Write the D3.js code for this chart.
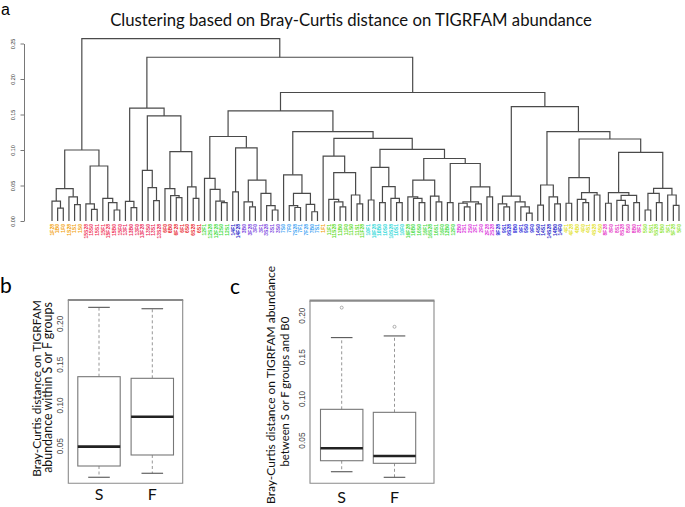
<!DOCTYPE html>
<html><head><meta charset="utf-8">
<script src="https://cdn.jsdelivr.net/npm/d3@7/dist/d3.min.js"></script>
<style>body{margin:0;background:#fff}svg{display:block}</style>
</head><body>
<svg id="chart" width="685" height="507"></svg>
<script>
// ---------- DATA ----------
const leafLabels = ["1F28","1B0","1F0","1S28","1S1","1S0",
"15S28","15S0","15S1","15F1","15F28","15B0","15F0",
"13F1","13B0","13F0","13F28","13S0","13S1","13S28",
"6F0","6B0","6F28","6F1","6S0","6S28","6S1",
"12F1","12S28","12F28","12S0","12S1",
"14F1","14F28",
"3B0","3F28","3F0","3F1","3S28","3S1","3S0",
"7S0","7F0","7S28","7F1","7F28","7B0","7S1",
"1F1",
"11F1","11S28","11B0","11F0","11S0","11S1","11F28",
"10F1","10F28","10B0","10S0","10S28","10S1","10F0",
"16F28","16B0","16S0","16F1","16S28","16S1","16F0",
"12B0","12F0",
"2B0","2S1","2S0","2F1","2F0","2F28","2S28",
"9F28","9S1","9S28","9B0","9F1","9S0","9F0",
"14S0","14S1","14S28","14B0","14F0",
"4F1","4F28","4B0","4F0","4S1","4S28","4S0",
"8F28","8F0","8S1","8S28","8S0","8B0","8F1",
"5S0","5S1","5S28","5B0","5F1","5F28","5F0"];

const groupIds    = ["1","15","13","6","12","14","3","7","11","10","16","2","9","4","8","5"];
const groupColors = ["#f2a20c","#f0355a","#ea2a58","#e8262e","#3fdc3f","#2424c8","#7a46e0","#3aa2f2",
                     "#5ddc28","#2ad8d8","#46dc46","#dc38dc","#2828d8","#e2e226","#e63cc8","#92e63a"];

// merge trees: [height, left, right]; numbers are leaf indices
const clusterA  = [0.100,
  [0.0455, [0.028, 0, [0.018, 1, 2]], [0.034, 3, [0.023, 4, 5]]],
  [0.0775, [0.024, 6, [0.0165, 7, 8]], [0.032, 9, [0.026, 10, [0.0155, 11, 12]]]]];
const clusterB1 = [0.159,
  [0.0277, 13, [0.0187, 14, 15]],
  [0.148,
    [0.0714, 16, [0.047, 17, [0.0286, 18, 19]]],
    [0.0976, [0.0455, 20, [0.0357, 21, [0.033, 22, 23]]], [0.048, 24, [0.032, 25, 26]]]]];
const clusterC  = [0.119,
  [0.060, 27, [0.0446, 28, [0.028, 29, [0.0258, 30, 31]]]],
  [0.103, [0.041, 32, 33],
    [0.0577, [0.027, 34, [0.020, 35, 36]], [0.039, 37, [0.0216, 38, [0.0155, 39, 40]]]]]];
const clusterDL = [0.065, 41, [0.039, [0.0216, 42, [0.019, 43, 44]], [0.0235, 45, [0.013, 46, 47]]]];
const clusterE  = [0.0915, 48, [0.068, [0.0305, 49, [0.027, 50, [0.020, 51, 52]]], [0.0366, 53, [0.024, 54, 55]]]];
const clusterF  = [0.101,
  [0.0756, [0.0296, 56, 57], [0.0483, [0.026, 58, 59], [0.032, 60, [0.026, 61, 62]]]],
  [0.088,
    [0.0577, [0.034, 63, [0.032, 64, [0.026, 65, 66]]], [0.035, 67, [0.027, 68, 69]]],
    [0.081, [0.026, 70, 71], [0.048, [0.027, [0.025, 72, [0.020, 73, 74]], [0.024, 75, 76]], [0.034, 77, 78]]]]];
const clusterGL = [0.035, [0.024, 79, [0.020, 80, 81]], [0.027, 82, [0.020, 83, [0.011, 84, 85]]]];
const clusterGRL= [0.0507, [0.0225, 86, 87], [0.034, 88, [0.024, 89, 90]]];
const clusterH  = [0.061, [0.025, 91, 92], [0.040, [0.0305, 93, [0.026, 94, 95]], [0.0366, 96, 97]]];
const clusterI  = [0.0967,
  [0.040, [0.025, 98, 99], [0.036, [0.029, 100, [0.022, 101, 102]], [0.026, 103, 104]]],
  [0.046, [0.039, [0.0155, 105, 106], [0.026, 107, 108]], [0.0366, 109, [0.022, 110, 111]]]];
const clusterD  = [0.126, clusterDL, [0.1165, clusterE, clusterF]];
const clusterG  = [0.161, clusterGL, [0.126, clusterGRL, [0.1155, clusterH, clusterI]]];
const mergeTree = [0.257, clusterA, [0.2306, clusterB1, [0.181, [0.155, clusterC, clusterD], clusterG]]];

const dendTicks = [0, 0.05, 0.10, 0.15, 0.20, 0.25];

const boxCategories = ["S", "F"];
// panel b
const bLow    = [0.0113, 0.0162];
const bQ1     = [0.0251, 0.0386];
const bMedian = [0.0488, 0.0855];
const bQ3     = [0.1346, 0.1326];
const bHigh   = [0.2196, 0.2179];
const bOut    = [[], []];
// panel c
const cLow    = [0.0120, 0.0053];
const cQ1     = [0.0252, 0.0221];
const cMedian = [0.0401, 0.0309];
const cQ3     = [0.0869, 0.0833];
const cHigh   = [0.1730, 0.1750];
const cOut    = [[0.209], [0.186]];
const boxTicks = [0.05, 0.10, 0.15, 0.20];

// ---------- DRAW ----------
const svg = d3.select("#chart");
const SANS = "Lato, 'Open Sans', sans-serif";
const RFONT = "'Liberation Sans', Arial, sans-serif";
function fit(sel, w) {
  const L = sel.node().getComputedTextLength();
  sel.attr("font-size", parseFloat(sel.attr("font-size")) * w / L);
}

// panel letters
svg.append("text").attr("x", 1).attr("y", 15).attr("font-family", RFONT).attr("font-size", 16).text("a");
svg.append("text").attr("x", 0).attr("y", 293).attr("font-family", SANS).attr("font-size", 21).text("b");
svg.append("text").attr("x", 230).attr("y", 294).attr("font-family", SANS).attr("font-size", 21).text("c");

// title
const title = svg.append("text").attr("x", 351).attr("y", 26).attr("text-anchor", "middle")
  .attr("font-family", SANS).attr("font-size", 16).attr("fill", "#111")
  .text("Clustering based on Bray-Curtis distance on TIGRFAM abundance");
fit(title, 482);

// dendrogram
const xLeaf = d3.scalePoint().domain(leafLabels).range([52, 679]);
const yDend = d3.scaleLinear().domain([0, 0.25]).range([221, 43.5]);
const colorOf = d3.scaleOrdinal().domain(groupIds).range(groupColors);

const root = d3.hierarchy(mergeTree, d => Array.isArray(d) ? d.slice(1) : null);
root.eachAfter(n => {
  if (n.children) { n.h = n.data[0]; n.px = d3.mean(n.children, c => c.px); }
  else { n.h = 0; n.px = xLeaf(leafLabels[n.data]); }
});
const gD = svg.append("g");
root.each(n => {
  if (!n.children) return;
  const [a, b] = n.children;
  gD.append("path")
    .attr("d", `M${a.px},${yDend(a.h)}V${yDend(n.h)}H${b.px}V${yDend(b.h)}`)
    .attr("fill", "none").attr("stroke", "#4a4a4a").attr("stroke-width", 1.2);
});
root.leaves().forEach(l => {
  const lab = leafLabels[l.data];
  gD.append("text")
    .attr("transform", `translate(${l.px + 1.8},224) rotate(-90)`)
    .attr("text-anchor", "end").attr("font-family", RFONT).attr("font-weight", "bold")
    .attr("font-size", 5).attr("fill", colorOf(lab.match(/^\d+/)[0])).text(lab);
});

// dendrogram axis
const axD = svg.append("g").attr("transform", "translate(24,0)")
  .call(d3.axisLeft(yDend).tickValues(dendTicks).tickFormat(d3.format(".2f")).tickSize(3.5).tickSizeOuter(0));
axD.select(".domain").attr("stroke", "#555").attr("stroke-width", 0.8);
axD.selectAll(".tick line").attr("stroke", "#555").attr("stroke-width", 0.8);
axD.selectAll(".tick text").attr("x", null).attr("dy", null)
  .attr("transform", "translate(-9,0) rotate(-90)").attr("text-anchor", "middle")
  .attr("font-family", RFONT).attr("font-size", 5.5).attr("fill", "#333");

// boxplots
function drawBox(cfg) {
  const g = svg.append("g");
  const x = d3.scalePoint().domain(boxCategories).range(cfg.centers);
  const y = d3.scaleLinear().domain(cfg.yDomain).range([cfg.frame[3], cfg.frame[1]]);
  const [fx0, fy0, fx1, fy1] = cfg.frame;
  g.append("path").attr("d", `M${fx0},${fy0}V${fy1}H${fx1}V${fy0}`).attr("fill", "none")
    .attr("stroke", "#8a8a8a").attr("stroke-width", 1.1);
  g.append("line").attr("x1", fx0 - 0.5).attr("x2", fx1 + 0.5).attr("y1", fy0).attr("y2", fy0)
    .attr("stroke", "#8a8a8a").attr("stroke-width", 2.2);
  const hw = 21.2, cw = 10.8;
  boxCategories.forEach((c, i) => {
    const cx = x(c);
    g.append("line").attr("x1", cx).attr("x2", cx).attr("y1", y(cfg.q3[i])).attr("y2", y(cfg.high[i]))
      .attr("stroke", "#8a8a8a").attr("stroke-dasharray", "3,2.5").attr("stroke-width", 0.9);
    g.append("line").attr("x1", cx).attr("x2", cx).attr("y1", y(cfg.q1[i])).attr("y2", y(cfg.low[i]))
      .attr("stroke", "#8a8a8a").attr("stroke-dasharray", "3,2.5").attr("stroke-width", 0.9);
    [cfg.high[i], cfg.low[i]].forEach(v => g.append("line").attr("x1", cx - cw).attr("x2", cx + cw)
      .attr("y1", y(v)).attr("y2", y(v)).attr("stroke", "#555").attr("stroke-width", 1.1));
    g.append("rect").attr("x", cx - hw).attr("width", 2 * hw).attr("y", y(cfg.q3[i]))
      .attr("height", y(cfg.q1[i]) - y(cfg.q3[i])).attr("fill", "#fff").attr("stroke", "#777").attr("stroke-width", 1.1);
    g.append("line").attr("x1", cx - hw).attr("x2", cx + hw).attr("y1", y(cfg.median[i])).attr("y2", y(cfg.median[i]))
      .attr("stroke", "#222").attr("stroke-width", 2.6);
    cfg.out[i].forEach(v => g.append("circle").attr("cx", cx).attr("cy", y(v)).attr("r", 1.5)
      .attr("fill", "none").attr("stroke", "#999").attr("stroke-width", 0.8));
    g.append("text").attr("x", cx).attr("y", cfg.catY).attr("text-anchor", "middle")
      .attr("font-family", SANS).attr("font-size", 16).attr("fill", "#111").text(c);
  });
  const ax = g.append("g").attr("transform", `translate(${fx0},0)`)
    .call(d3.axisLeft(y).tickValues(boxTicks).tickFormat(d3.format(".2f")).tickSize(0).tickSizeOuter(0));
  ax.select(".domain").remove();
  ax.selectAll(".tick text").attr("x", null).attr("dy", null)
    .attr("transform", `translate(${cfg.tickOff},0) rotate(-90)`).attr("text-anchor", "middle")
    .attr("font-family", RFONT).attr("font-size", 8.3).attr("fill", "#444");
  cfg.ylab.forEach(t => {
    const tx = g.append("text").attr("transform", `translate(${t.x},${t.cy}) rotate(-90)`)
      .attr("text-anchor", "middle").attr("font-family", SANS).attr("font-size", 13).attr("fill", "#111").text(t.s);
    fit(tx, t.w);
  });
}

drawBox({
  centers: [99, 152.3], frame: [68.3, 300, 182.7, 483.3], yDomain: [0.0039, 0.2286],
  low: bLow, q1: bQ1, median: bMedian, q3: bQ3, high: bHigh, out: bOut, catY: 500, tickOff: -5,
  ylab: [{s: "Bray-Curtis distance on TIGRFAM", x: 40.7, cy: 388.5, w: 177},
         {s: "abundance within S or F groups", x: 51.8, cy: 387.5, w: 171}]
});
drawBox({
  centers: [341.7, 394.5], frame: [310, 300.7, 434, 483.3], yDomain: [-0.0019, 0.2173],
  low: cLow, q1: cQ1, median: cMedian, q3: cQ3, high: cHigh, out: cOut, catY: 503, tickOff: -5,
  ylab: [{s: "Bray-Curtis distance on TIGRFAM abundance", x: 274.5, cy: 385, w: 238},
         {s: "between S or F groups and B0", x: 288.5, cy: 391.7, w: 150}]
});
</script>
</body></html>
